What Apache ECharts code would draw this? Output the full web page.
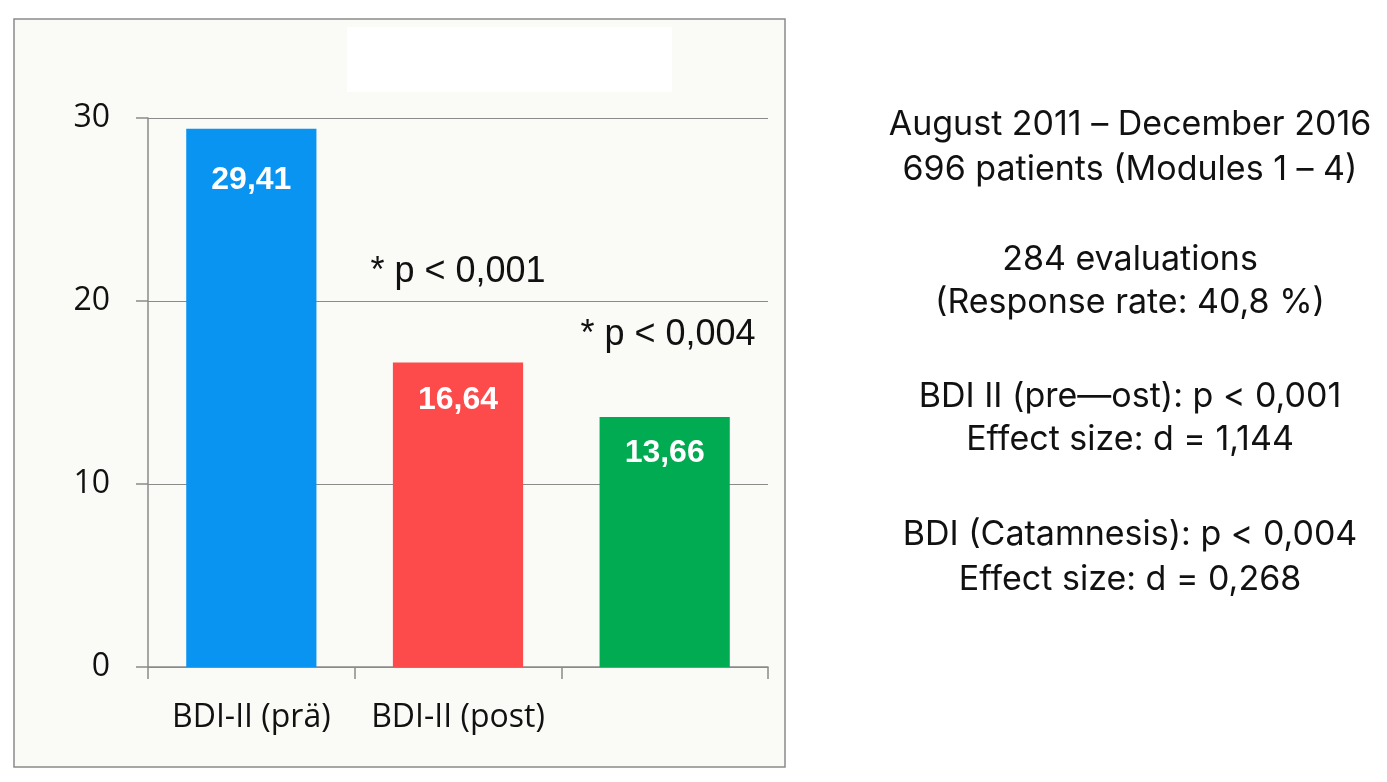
<!DOCTYPE html>
<html>
<head>
<meta charset="utf-8">
<script src="https://cdn.jsdelivr.net/npm/echarts@6/dist/echarts.min.js"></script>
<style>
html,body{margin:0;padding:0;background:#ffffff;}
#c{width:1387px;height:782px;}
</style>
</head>
<body>
<div id="c"></div>
<script>
var categories = ['BDI-II (prä)', 'BDI-II (post)', ''];
var values = [29.41, 16.64, 13.66];
var valueLabels = ['29,41', '16,64', '13,66'];
var barColors = ['#0a94f2', '#fd4b4c', '#00ab52'];
var yTicks = [0, 10, 20, 30];
var annotations = ['* p < 0,001', '* p < 0,004'];
var infoLines = [
  'August 2011 \u2013 December 2016',
  '696 patients (Modules 1 \u2013 4)',
  '',
  '284 evaluations',
  '(Response rate: 40,8 %)',
  '',
  'BDI II (pre\u2014ost): p < 0,001',
  'Effect size: d = 1,144',
  '',
  'BDI (Catamnesis): p < 0,004',
  'Effect size: d = 0,268'
];

var chart = echarts.init(document.getElementById('c'));
var infoY = [125, 170, 0, 260, 303, 0, 397, 440, 0, 535, 580];
var labelDist = [51, 38, 36];
var graphics = [
  {type:'rect', z:-10, shape:{x:14, y:19, width:771, height:748}, style:{fill:'#fafaf7', stroke:'#8a8a8a', lineWidth:1.5}},
  {type:'rect', z:-9, shape:{x:347, y:27, width:325, height:65}, style:{fill:'#ffffff'}},
  {type:'text', x:458, y:272, style:{text:annotations[0], fontSize:36, fontFamily:'"Liberation Sans", Arial, sans-serif', fill:'#111', align:'center', verticalAlign:'middle'}},
  {type:'text', x:668, y:335, style:{text:annotations[1], fontSize:36, fontFamily:'"Liberation Sans", Arial, sans-serif', fill:'#111', align:'center', verticalAlign:'middle'}}
];
infoLines.forEach(function(t, i){
  if (!t) return;
  graphics.push({type:'text', x:1130, y:infoY[i], style:{text:t, fontSize:34, fontFamily:'Inter, "Noto Sans", sans-serif', fill:'#111', align:'center', verticalAlign:'middle'}});
});

chart.setOption({
  animation:false,
  backgroundColor:'#ffffff',
  grid:{left:148, right:619, top:118, bottom:115},
  xAxis:{
    type:'category',
    data:categories,
    axisLine:{lineStyle:{color:'#8a8a8a', width:1.5}},
    axisTick:{show:true, length:12, lineStyle:{color:'#8a8a8a', width:1.5}},
    axisLabel:{color:'#111', fontSize:32, fontFamily:'"Open Sans", sans-serif', margin:35, interval:0}
  },
  yAxis:{
    type:'value', min:0, max:30, interval:10,
    axisLine:{show:true, lineStyle:{color:'#8a8a8a', width:1.5}},
    axisTick:{show:true, length:12, lineStyle:{color:'#8a8a8a', width:1.5}},
    splitLine:{lineStyle:{color:'#8a8a8a', width:1.2}},
    axisLabel:{color:'#111', fontSize:32, fontFamily:'"Open Sans", sans-serif', margin:38,
      formatter:function(v){return yTicks.indexOf(v) >= 0 ? String(v) : '';}}
  },
  series:[{
    type:'bar',
    barWidth:'63%',
    data:values.map(function(v, i){return {value:v, itemStyle:{color:barColors[i]}, label:{distance:labelDist[i]}};}),
    label:{show:true, position:'insideTop', color:'#ffffff', fontSize:32, fontWeight:'bold',
      fontFamily:'"Liberation Sans", Arial, sans-serif', verticalAlign:'middle',
      formatter:function(p){return valueLabels[p.dataIndex];}}
  }],
  graphic:graphics
});
</script>
</body>
</html>
